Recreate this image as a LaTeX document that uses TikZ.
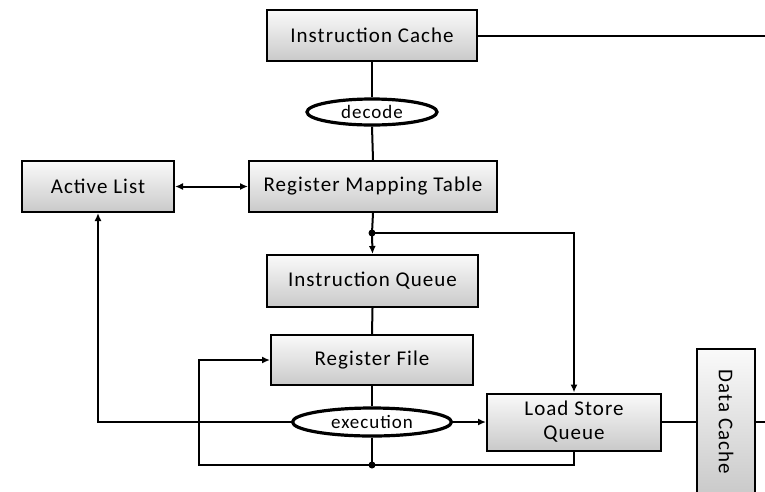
\documentclass[tikz,border=0pt]{standalone}
\usepackage{fontspec}
\setmainfont{Carlito}[LetterSpace=5]
\usetikzlibrary{positioning,calc,arrows.meta,shapes.geometric}

\begin{document}
\begin{tikzpicture}[x=1pt,y=-1pt,
    block/.style={draw=black,line width=2pt,top color=gray!4,bottom color=gray!42,
      inner sep=0pt,align=center,font=\fontsize{21}{24}\selectfont},
    oval/.style={draw=black,line width=3.2pt,fill=white,ellipse,inner sep=0pt,
      font=\fontsize{19}{21}\selectfont},
    link/.style={line width=2pt},
    tip/.style={-{Latex[length=8pt,width=7pt]}},
    twotip/.style={{Latex[length=8pt,width=7pt]}-{Latex[length=8pt,width=7pt]}},
    joint/.style={fill=black,circle,inner sep=0pt,minimum size=7pt}]
    \clip (0,0) rectangle (765,491);

    \node[block,minimum width=210pt,minimum height=51pt] (icache) at (372,35.5) {Instruction Cache};
    \node[oval,minimum width=130pt,minimum height=26pt] (decode) at (372,112) {decode};
    \node[block,minimum width=152pt,minimum height=51pt] (alist) at (98,186.5) {Active List};
    \node[block,minimum width=248pt,minimum height=51pt] (rmt) at (373,186.5) {Register Mapping Table};
    \node[block,minimum width=211pt,minimum height=52pt] (iqueue) at (372.5,281) {Instruction Queue};
    \node[block,minimum width=202pt,minimum height=50pt] (rfile) at (372,360) {Register File};
    \node[oval,minimum width=159pt,minimum height=28pt] (exec) at (372,422) {execution};
    \node[block,minimum width=174pt,minimum height=57pt] (lsq) at (574,422) {Load Store\\Queue};
    \node[block,rotate=-90,minimum width=146pt,minimum height=58pt] (dcache) at (726,422) {Data Cache};

    \coordinate (split) at (372,233);
    \coordinate (merge) at (372,465);
    \coordinate (back) at (199,465);
    \coordinate (icout) at (765,35.5);
    \coordinate (dcout) at (765,422);

    \draw[link] (icache.east) -- (icout);
    \draw[link] (icache.south) -- (decode.north);
    \draw[link] (decode.south) -- (rmt.north);
    \draw[link,twotip] (alist.east) -- (rmt.west);
    \draw[link] (rmt.south) -- (split);
    \draw[link,tip] (split) -- (iqueue.north);
    \draw[link,tip] (split) -| (lsq.north);
    \draw[link] (iqueue.south) -- (rfile.north);
    \draw[link] (rfile.south) -- (exec.north);
    \draw[link] (exec.south) -- (merge);
    \draw[link,tip] (exec.west) -| (alist.south);
    \draw[link,tip] (exec.east) -- (lsq.west);
    \draw[link,tip] (lsq.south) |- (back) |- (rfile.west);
    \draw[link] (lsq.east) -- (dcache.south);
    \draw[link] (dcache.north) -- (dcout);

    \node[joint] (splitdot) at (split) {};
    \node[joint] (mergedot) at (merge) {};
\end{tikzpicture}
\end{document}
